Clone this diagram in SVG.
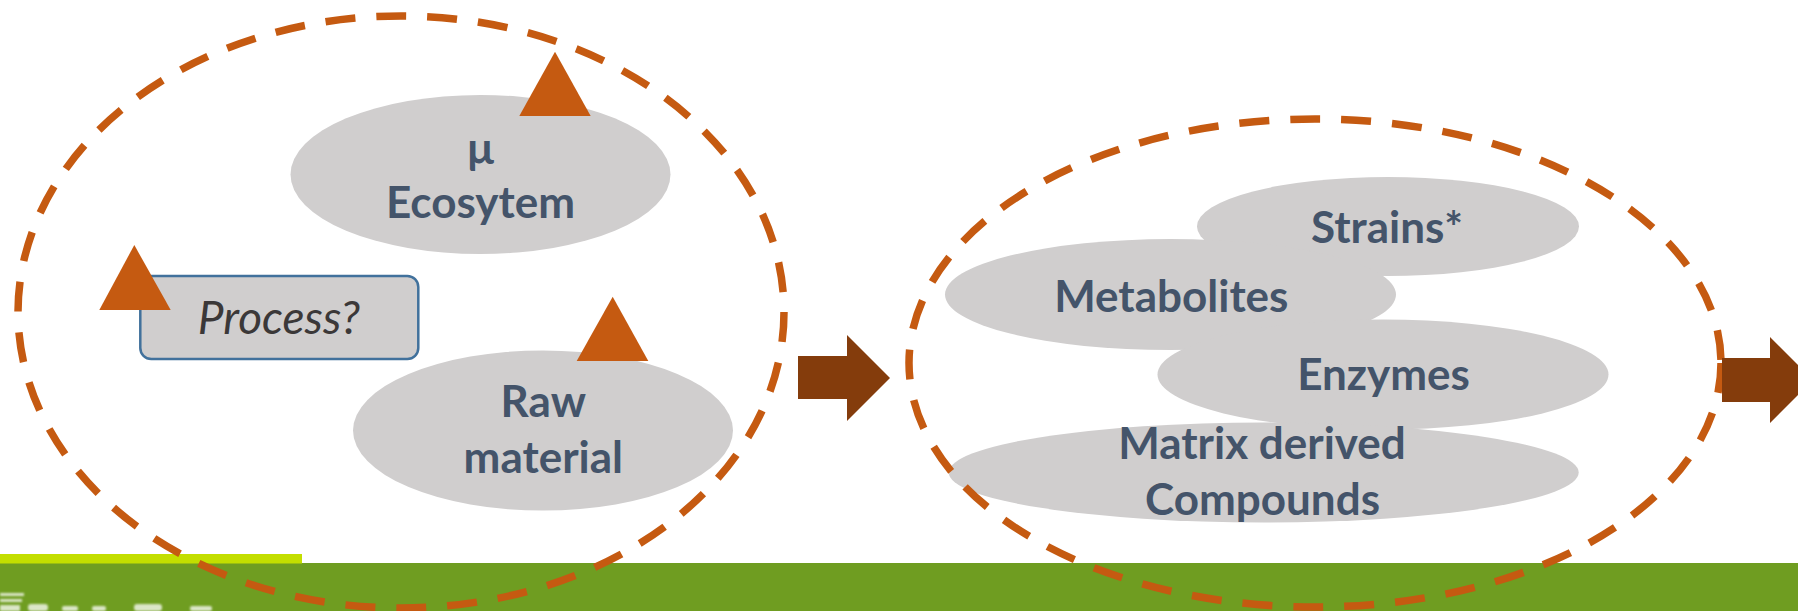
<svg xmlns="http://www.w3.org/2000/svg" width="1798" height="611" viewBox="0 0 1798 611">
  <defs>
    <style>
      .blob { fill: #D0CECE; }
      .label { font-family: Lato, "Open Sans", "Liberation Sans", sans-serif; font-weight: bold; font-size: 44px; fill: #44546A; text-anchor: middle; }
      .proc { font-family: Lato, "Open Sans", "Liberation Sans", sans-serif; font-style: italic; font-size: 46px; fill: #3B3838; text-anchor: middle; }
      .marker { fill: #C55A11; }
      .group-ring { fill: none; stroke: #C55A11; stroke-width: 7.5; stroke-dasharray: 30 21; }
      .flow { fill: #843C0C; }
    </style>
    <filter id="soft" x="-20%" y="-50%" width="140%" height="200%">
      <feGaussianBlur stdDeviation="1.2"/>
    </filter>
  </defs>

  <rect width="1798" height="611" fill="#FFFFFF"/>

  <!-- footer bands -->
  <g id="footer">
    <rect x="0" y="563" width="1798" height="48" fill="#6F9D21"/>
    <rect x="0" y="554" width="302" height="9.5" fill="#C3DE00"/>
    <g fill="#FFFFFF" opacity="0.75" filter="url(#soft)">
      <rect x="0" y="593" width="24" height="3"/>
      <rect x="0" y="599" width="22" height="3"/>
      <rect x="0" y="605" width="20" height="6"/>
      <rect x="28" y="604" width="20" height="7" rx="3"/>
      <rect x="62" y="606" width="16" height="5" rx="2"/>
      <rect x="92" y="606" width="14" height="5" rx="2"/>
      <rect x="134" y="604" width="28" height="7" rx="3"/>
      <rect x="190" y="606" width="22" height="5" rx="2"/>
    </g>
  </g>

  <!-- source side -->
  <g id="node-ecosystem">
    <ellipse class="blob" cx="480.5" cy="174.5" rx="190" ry="79.5"/>
    <polygon class="marker" points="555,51.7 590.7,116 519.3,116"/>
    <text class="label" x="480.5" y="164">μ</text>
    <text class="label" x="480.5" y="218.3">Ecosytem</text>
  </g>

  <g id="node-process">
    <rect x="140.3" y="276" width="278" height="83" rx="11" fill="#D0CECE" stroke="#41719C" stroke-width="2.5"/>
    <polygon class="marker" points="134.3,245 170.7,310 99.3,310"/>
    <text class="proc" x="279" y="334">Process?</text>
  </g>

  <g id="node-raw-material">
    <ellipse class="blob" cx="543" cy="430.5" rx="190" ry="80"/>
    <polygon class="marker" points="612.7,296.7 648.3,361 576.7,361"/>
    <text class="label" x="543.3" y="417.3">Raw</text>
    <text class="label" x="543.3" y="473.3">material</text>
  </g>

  <!-- output side -->
  <g id="node-strains">
    <ellipse class="blob" cx="1388" cy="226.5" rx="191" ry="49.5"/>
  </g>
  <g id="node-metabolites">
    <ellipse class="blob" cx="1170.5" cy="294.6" rx="225.5" ry="55.5"/>
  </g>
  <g id="node-enzymes">
    <ellipse class="blob" cx="1383" cy="374.5" rx="225.5" ry="55"/>
  </g>
  <g id="node-matrix">
    <ellipse class="blob" cx="1263.7" cy="472.5" rx="315" ry="50"/>
  </g>
  <g id="output-labels">
    <text class="label" x="1387" y="243.3">Strains*</text>
    <text class="label" x="1171.3" y="311.7">Metabolites</text>
    <text class="label" x="1383.5" y="390">Enzymes</text>
    <text class="label" x="1262" y="459">Matrix derived</text>
    <text class="label" x="1262.5" y="515">Compounds</text>
  </g>

  <!-- dashed grouping rings -->
  <g id="group-inputs">
    <ellipse class="group-ring" cx="401" cy="312" rx="383" ry="296"/>
  </g>
  <g id="group-outputs">
    <ellipse class="group-ring" cx="1315" cy="363" rx="406" ry="244"/>
  </g>

  <!-- flow arrows -->
  <g id="connectors">
    <polygon class="flow" points="798,356 847,356 847,335 890,378 847,421 847,399 798,399"/>
    <polygon class="flow" points="1722,358 1770,358 1770,337 1813,380 1770,423 1770,402 1722,402"/>
  </g>
</svg>
